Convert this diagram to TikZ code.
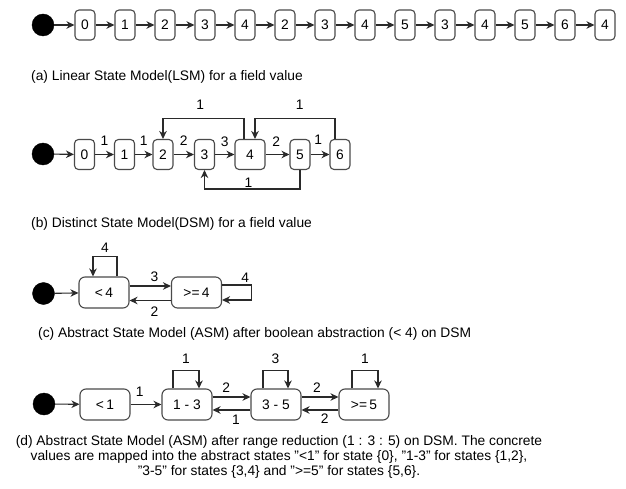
\documentclass[tikz,border=0pt]{standalone}
\usepackage{fontspec}
\setmainfont{Liberation Sans}
\usetikzlibrary{arrows.meta}
\definecolor{boxc}{HTML}{4A4A4A}
\definecolor{linec}{HTML}{2A2A2A}
\newcommand\sq{\symbol{34}}
\begin{document}
\begin{tikzpicture}[x=1pt,y=-1pt,
  every node/.style={font=\fontsize{13.8}{15}\selectfont},
  st/.style={draw=boxc,line width=1.1pt,rounded corners=4pt,minimum width=20pt,minimum height=30pt,inner sep=0pt},
  wst/.style={st,minimum width=30pt},
  big/.style={draw=boxc,line width=1.1pt,rounded corners=6pt,minimum width=50pt,minimum height=31pt,inner sep=0pt},
  init/.style={circle,fill=black,draw=black,minimum size=22pt,inner sep=0pt},
  arr/.style={draw=linec,line width=1.1pt,-{Stealth[length=8pt,width=7.5pt,inset=2.5pt]}},
  lbl/.style={inner sep=0pt},
  captext/.style={inner sep=0pt}]
\useasboundingbox (0,0) rectangle (626,489);

% (a) Linear State Model
\node[init] (ia) at (43,25) {};
\foreach \v [count=\k from 0] in {0,1,2,3,4,2,3,4,5,3,4,5,6,4} {
  \node[st] (a\k) at (85+40*\k,25) {\v};
}
\draw[arr] (ia) -- (a0);
\foreach \k [evaluate=\k as \j using int(\k+1)] in {0,...,12} {
  \draw[arr] (a\k) -- (a\j);
}
\node[captext,anchor=base west] (capa) at (31,81) {(a) Linear State Model(LSM) for a field value};

% (b) Distinct State Model
\node[init] (ib) at (43,154) {};
\node[st] (b0) at (84.5,154.5) {0};
\node[st] (b1) at (124.5,154.5) {1};
\node[st] (b2) at (163,154.5) {2};
\node[st] (b3) at (204.5,154.5) {3};
\node[wst] (b4) at (250,154.5) {4};
\node[st] (b5) at (300,154.5) {5};
\node[st] (b6) at (340,154.5) {6};
\draw[arr] (ib) -- (b0);
\draw[arr] (b0) -- (b1) node[lbl,midway,yshift=14pt]{1};
\draw[arr] (b1) -- (b2) node[lbl,midway,yshift=14pt]{1};
\draw[arr] (b2) -- (b3) node[lbl,midway,yshift=14pt]{2};
\draw[arr] (b3) -- (b4) node[lbl,midway,yshift=13pt]{3};
\draw[arr] (b4) -- (b5) node[lbl,pos=0.45,yshift=13pt]{2};
\draw[arr] (b5) -- (b6) node[lbl,pos=0.4,yshift=15pt]{1};
\draw[arr] ([xshift=-6pt]b4.north) -- ++(0,-20) -| (b2.north) node[lbl,pos=0.27,yshift=14pt]{1};
\draw[arr] ([xshift=-5pt]b6.north) -- ++(0,-20) -| ([xshift=5pt]b4.north) node[lbl,pos=0.22,yshift=14pt]{1};
\draw[arr] (b5.south) -- ++(0,19) -| (b3.south) node[lbl,pos=0.27,yshift=6pt]{1};
\node[captext,anchor=base west] (capb) at (31,227) {(b) Distinct State Model(DSM) for a field value};

% (c) Abstract State Model (boolean)
\node[init] (ic) at (43.5,293.5) {};
\node[big] (c1) at (104,292.5) {<\,4};
\node[big] (c2) at (196.5,292.5) {>=\,4};
\draw[arr] (ic) -- (c1);
\draw[arr] ([yshift=6.5pt]c1.east) -- ([yshift=6.5pt]c2.west) node[lbl,pos=0.6,yshift=9pt]{3};
\draw[arr] ([yshift=-8pt]c2.west) -- ([yshift=-8pt]c1.east) node[lbl,pos=0.4,yshift=-11.5pt]{2};
\draw[arr] ([xshift=13pt]c1.north) -- ++(0,-20) -| ([xshift=-11pt]c1.north) node[lbl,pos=0.25,yshift=9pt]{4};
\draw[arr] ([yshift=7.5pt]c2.east) -- ++(29,0) node[lbl,pos=0.8,yshift=7pt]{4} |- ([yshift=-7.5pt]c2.east);
\node[captext,anchor=base west] (capc) at (38,337) {(c) Abstract State Model (ASM) after boolean abstraction (< 4) on DSM};

% (d) Abstract State Model (range)
\node[init] (id) at (44,404) {};
\node[big] (d1) at (105,404.5) {<\,1};
\node[big] (d2) at (187,404.5) {1 - 3};
\node[big] (d3) at (276,404.5) {3 - 5};
\node[big] (d4) at (364,404.5) {>=\,5};
\draw[arr] (id) -- (d1);
\draw[arr] (d1) -- (d2) node[lbl,pos=0.3,yshift=12.5pt]{1};
\draw[arr] ([yshift=7.5pt]d2.east) -- ([yshift=7.5pt]d3.west) node[lbl,pos=0.36,yshift=9pt]{2};
\draw[arr] ([yshift=-5.5pt]d3.west) -- ([yshift=-5.5pt]d2.east) node[lbl,pos=0.385,yshift=-10pt]{1};
\draw[arr] ([yshift=7.5pt]d3.east) -- ([yshift=7.5pt]d4.west) node[lbl,pos=0.42,yshift=9pt]{2};
\draw[arr] ([yshift=-5.5pt]d4.west) -- ([yshift=-5.5pt]d3.east) node[lbl,pos=0.37,yshift=-9pt]{2};
\draw[arr] ([xshift=-14pt]d2.north) -- ++(0,-18) -| ([xshift=12pt]d2.north) node[lbl,pos=0.25,yshift=12pt]{1};
\draw[arr] ([xshift=-13pt]d3.north) -- ++(0,-18) -| ([xshift=12pt]d3.north) node[lbl,pos=0.25,yshift=12pt]{3};
\draw[arr] ([xshift=-12pt]d4.north) -- ++(0,-18) -| ([xshift=14pt]d4.north) node[lbl,pos=0.25,yshift=12pt]{1};
\node[captext,anchor=base] (capd1) at (279,445) {(d) Abstract State Model (ASM) after range reduction (1 : 3 : 5) on DSM. The concrete};
\node[captext,anchor=base] (capd2) at (279,460) {values are mapped into the abstract states \sq<1\sq{} for state \{0\}, \sq1-3\sq{} for states \{1,2\},};
\node[captext,anchor=base] (capd3) at (279,475) {\sq3-5\sq{} for states \{3,4\} and \sq>=5\sq{} for states \{5,6\}.};
\end{tikzpicture}
\end{document}
